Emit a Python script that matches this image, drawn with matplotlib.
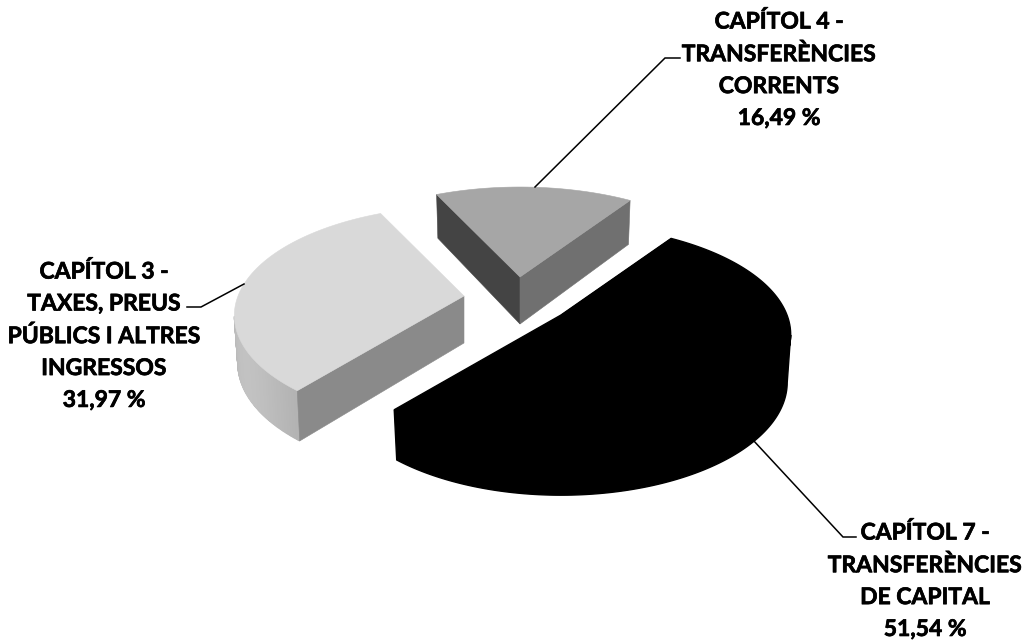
#!/usr/bin/env python
import matplotlib
matplotlib.use("Agg")
import matplotlib.pyplot as plt
import matplotlib.patheffects as pe
import numpy as np

# data, in the order the slices go round
categories = ["CAPÍTOL 4 -\nTRANSFERÈNCIES\nCORRENTS",
              "CAPÍTOL 3 -\nTAXES, PREUS\nPÚBLICS I ALTRES\nINGRESSOS",
              "CAPÍTOL 7 -\nTRANSFERÈNCIES\nDE CAPITAL"]
values = [16.49, 31.97, 51.54]

# look of the slices
top_colors = ["#a6a6a6", "#d9d9d9", "#000000"]
start_face_colors = ["#707070", "#8a8a8a", "#000000"]
end_face_colors = ["#444444", "#8a8a8a", "#000000"]
apex_x = [520, 464, 561]
apex_y = [277, 296, 315]

# labels and leader lines
label_x = [779, 104, 925]
label_y = [70, 336, 581]
leader_x = [[535, 665, 680], [244, 201, 187], [753, 843, 856]]
leader_y = [[187, 58, 58], [284, 307, 307], [440, 537, 537]]

start_angle = 56.0
rx = 226.0
ry = 106.0
persp = 0.178
height = 47.0


# pie plane to pixels, relative to the apex of a slice
def project(theta):
    x = np.cos(theta)
    y = np.sin(theta)
    w = 1 + persp * y
    return rx * x / w, -ry * y / w


def drop(theta):
    return height / (1 + 0.083 * np.sin(theta))


fig = plt.figure(figsize=(10.25, 6.42), dpi=100)
ax = fig.add_axes([0, 0, 1, 1])
ax.set_xlim(0, 1025)
ax.set_ylim(642, 0)
ax.axis("off")


def fill(xs, ys, color, z, lw=0.4):
    ax.fill(xs, ys, facecolor=color, edgecolor=color, linewidth=lw, zorder=z)


total = sum(values)
angle = np.radians(start_angle)
for i, v in enumerate(values):
    span = 2 * np.pi * v / total
    th = np.linspace(angle, angle + span, 241)
    px, py = project(th)
    tx = apex_x[i] + px
    ty = apex_y[i] + py
    bx = apex_x[i] + 0.985 * px
    by = ty + drop(th)
    apex_low = apex_y[i] + height

    # outer wall, only the part that faces the viewer
    front = np.where(np.sin(th) < -persp)[0]
    if len(front) and i == 1:
        for j in front[:-1]:
            t = np.clip((np.degrees(th[j]) - 185) / 45, 0, 1)
            g = 0.70 + 0.06 * np.sin(np.pi * t)
            fill([tx[j], tx[j + 1], bx[j + 1], bx[j]],
                 [ty[j], ty[j + 1], by[j + 1], by[j]], (g, g, g), 2, lw=0.8)
    elif len(front):
        fill(np.r_[tx[front], bx[front][::-1]], np.r_[ty[front], by[front][::-1]],
             end_face_colors[i], 2, lw=1.0)

    # cut faces
    fill([apex_x[i], tx[-1], bx[-1], apex_x[i]],
         [apex_y[i], ty[-1], by[-1], apex_low], end_face_colors[i], 3)
    if i == 0:
        fill([apex_x[i], tx[0], bx[0], apex_x[i]],
             [apex_y[i], ty[0], by[0], apex_low], start_face_colors[i], 3)

    # top
    fill(np.r_[apex_x[i], tx], np.r_[apex_y[i], ty], top_colors[i], 4,
         lw=1.0 if i == 2 else 0.4)
    angle += span

for i, v in enumerate(values):
    ax.plot(leader_x[i], leader_y[i], color="black", lw=1.1, zorder=5,
            solid_joinstyle="miter")
    txt = categories[i] + "\n" + f"{v:.2f}".replace(".", ",") + " %"
    ax.text(label_x[i], label_y[i], txt, ha="center", va="center",
            family="Lato", weight="bold", fontsize=16.5, linespacing=1.64,
            color="black", zorder=6,
            path_effects=[pe.withStroke(linewidth=0.5, foreground="black")])

fig.savefig("out.png", dpi=100)
